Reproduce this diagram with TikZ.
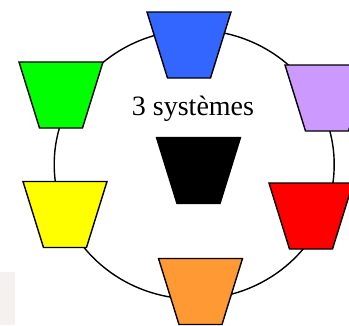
\documentclass[tikz,border=0pt]{standalone}
\usepackage{fontspec}
\setmainfont{Liberation Serif}
\definecolor{cblue}{RGB}{51,102,255}
\definecolor{cpurple}{RGB}{204,153,255}
\definecolor{cred}{RGB}{255,0,0}
\definecolor{corange}{RGB}{255,153,51}
\definecolor{cgreen}{RGB}{0,255,0}
\definecolor{cyellow}{RGB}{255,255,0}
\definecolor{cfaint}{RGB}{244,241,239}
\tikzset{
  bucket/.style={draw=black, line width=1.4pt, line join=miter},
  ring/.style={draw=black, line width=1.4pt},
  lbl/.style={font=\fontsize{28}{34}\selectfont, inner sep=0pt, anchor=base}
}
\newcommand{\bucketat}[3]{%
  \coordinate (#1) at (#2);
  \draw[bucket, fill=#3] ([shift={(-42,-33)}]#1) -- ([shift={(42,-33)}]#1)
    -- ([shift={(21.5,33)}]#1) -- ([shift={(-21.5,33)}]#1) -- cycle;}
\begin{document}
\begin{tikzpicture}[x=1pt,y=-1pt]
\useasboundingbox (0,0) rectangle (349,325);
\fill[cfaint] (0,272) rectangle (15,325);
\coordinate (ctr) at (194.2,164.5);
\draw[ring] (ctr) ellipse [x radius=140, y radius=134.5];
\bucketat{blue}{189,45}{cblue}
\bucketat{purple}{327,98}{cpurple}
\bucketat{red}{311,216}{cred}
\bucketat{orange}{200.5,291.5}{corange}
\bucketat{green}{61,95}{cgreen}
\bucketat{yellow}{65,214.5}{cyellow}
\bucketat{center}{198.5,170.5}{black}
\node[lbl] (title) at (193,115) {3 systèmes};
\end{tikzpicture}
\end{document}
